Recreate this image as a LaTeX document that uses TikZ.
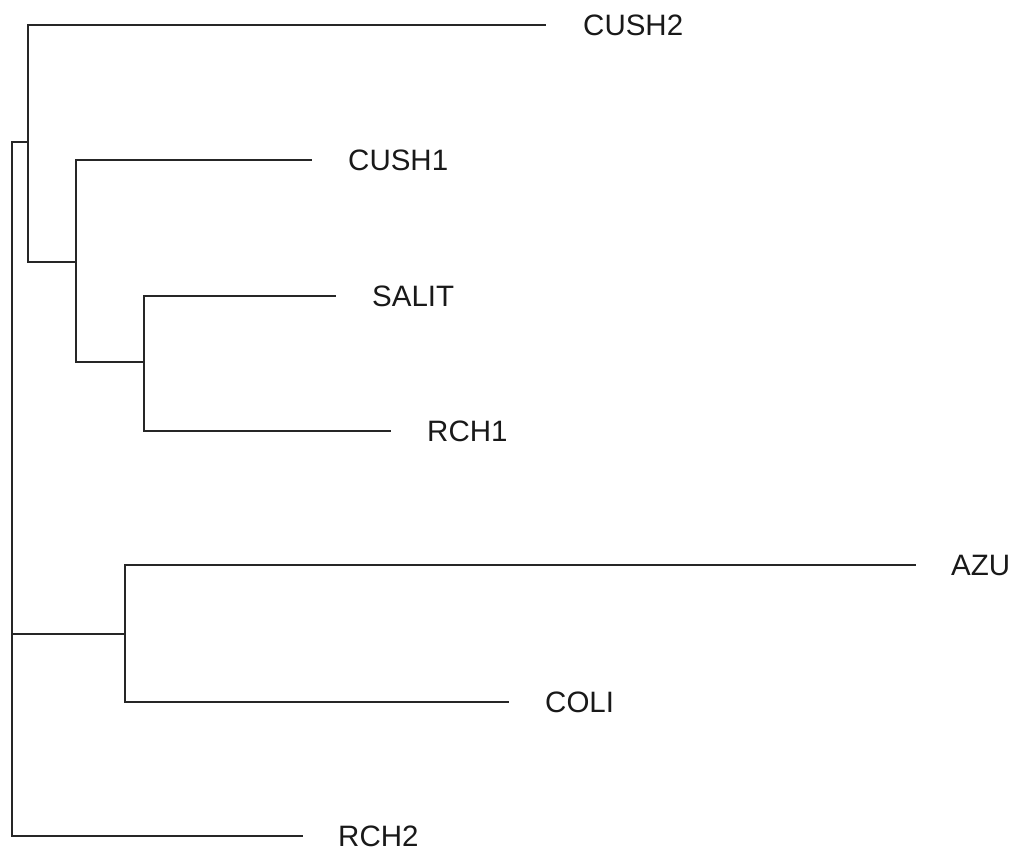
\documentclass[tikz,border=0pt]{standalone}
\usepackage{fontspec}
\setmainfont{Liberation Sans}
\begin{document}
\begin{tikzpicture}[x=1pt,y=-1pt,
  branch/.style={line width=1.4pt, draw=black!85, line cap=rect},
  leaf/.style={anchor=base west, inner sep=0pt, font=\fontsize{29.5}{32}\selectfont, text=black!90}]
\useasboundingbox (0,0) rectangle (1011,852);
% joints
\coordinate (r0) at (12,142);
\coordinate (r1) at (12,634);
\coordinate (rb) at (12,836);
\coordinate (a0) at (28,142);
\coordinate (a1) at (28,25);
\coordinate (a2) at (28,262);
\coordinate (b0) at (76,262);
\coordinate (b1) at (76,160);
\coordinate (b2) at (76,362);
\coordinate (c0) at (144,362);
\coordinate (c1) at (144,296);
\coordinate (c2) at (144,431);
\coordinate (d0) at (125,634);
\coordinate (d1) at (125,565);
\coordinate (d2) at (125,702);
% leaf ends
\coordinate (e1) at (545,25);
\coordinate (e2) at (311,160);
\coordinate (e3) at (335,296);
\coordinate (e4) at (390,431);
\coordinate (e5) at (915,565);
\coordinate (e6) at (508,702);
\coordinate (e7) at (302,836);
% labels
\node[leaf] (cush2) at (583,35.5) {CUSH2};
\node[leaf] (cush1) at (348,170.5) {CUSH1};
\node[leaf] (salit) at (372,306.5) {SALIT};
\node[leaf] (rch1) at (427,441.5) {RCH1};
\node[leaf] (azu) at (951,575.5) {AZU};
\node[leaf] (coli) at (545,712.5) {COLI};
\node[leaf] (rch2) at (338,846.5) {RCH2};
% branches
\draw[branch] (a0) -- (r0) -- (rb) -- (e7);
\draw[branch] (e1) -- (a1) -- (a2) -- (b0);
\draw[branch] (e2) -- (b1) -- (b2) -- (c0);
\draw[branch] (e3) -- (c1) -- (c2) -- (e4);
\draw[branch] (r1) -- (d0);
\draw[branch] (e5) -- (d1) -- (d2) -- (e6);
\end{tikzpicture}
\end{document}
